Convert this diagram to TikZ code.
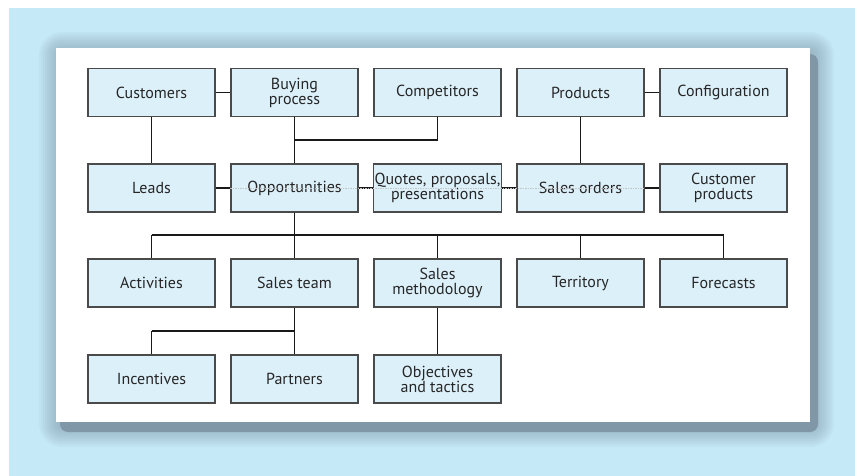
\documentclass[tikz,border=0pt]{standalone}
\usepackage{fontspec}
\setmainfont{PT Sans}
\definecolor{bgblue}{HTML}{C6E9F8}
\definecolor{shadowgray}{HTML}{7F97A6}
\definecolor{boxfill}{HTML}{DCF0FA}
\definecolor{boxline}{HTML}{4A4A4A}
\begin{document}
\begin{tikzpicture}[x=1pt,y=-1pt,
  item/.style={draw=boxline,line width=1.3pt,fill=boxfill,minimum width=127pt,minimum height=48pt,
    inner sep=1pt,align=center,font=\fontsize{16}{15}\selectfont,text=black!85},
  link/.style={line width=1.2pt,draw=black!90},
  faint/.style={line width=0.5pt,draw=gray!45,dash pattern=on 1.5pt off 1pt}]
\useasboundingbox (0,0) rectangle (855,476);
\fill[white] (0,0) rectangle (855,476);
\fill[bgblue] (9,8) rectangle (855,476);
% soft shadow halo
\foreach \i in {1,...,10}{
  \fill[shadowgray,opacity=0.07,rounded corners={3pt+2*\i pt}] (56-2*\i+3,48-2*\i+4) rectangle (810+2*\i+4,422+2*\i+5);
}
\fill[shadowgray,rounded corners=8pt] (60,54) rectangle (818,432);
\fill[white] (56,48) rectangle (810,422);
% nodes
\node[item] (cust) at (151.5,92.5) {Customers};
\node[item] (buy) at (294.5,92.5) {Buying\\process};
\node[item] (comp) at (437.5,92.5) {Competitors};
\node[item] (prod) at (580.5,92.5) {Products};
\node[item] (conf) at (723.5,92.5) {Configuration};
\node[item] (leads) at (151.5,188) {Leads};
\node[item] (opp) at (294.5,188) {Opportunities};
\node[item] (quot) at (437.5,188) {Quotes, proposals,\\presentations};
\node[item] (so) at (580.5,188) {Sales orders};
\node[item] (cp) at (723.5,188) {Customer\\products};
\node[item] (act) at (151.5,283) {Activities};
\node[item] (team) at (294.5,283) {Sales team};
\node[item] (meth) at (437.5,283) {Sales\\methodology};
\node[item] (terr) at (580.5,283) {Territory};
\node[item] (fore) at (723.5,283) {Forecasts};
\node[item] (inc) at (151.5,379) {Incentives};
\node[item] (part) at (294.5,379) {Partners};
\node[item] (obj) at (437.5,379) {Objectives\\and tactics};
% junction coordinates
\coordinate (j1) at (294.5,140);
\coordinate (j2) at (437.5,140);
\coordinate (b0) at (294.5,235);
\coordinate (bl) at (151.5,235);
\coordinate (bm) at (437.5,235);
\coordinate (bt) at (580.5,235);
\coordinate (br) at (723.5,235);
\coordinate (t0) at (294.5,331);
\coordinate (tl) at (151.5,331);
% links
\draw[link] (cust) -- (buy);
\draw[link] (prod) -- (conf);
\draw[link] (cust) -- (leads);
\draw[link] (prod) -- (so);
\draw[link] (buy) -- (opp);
\draw[link] (comp.south) |- (j1);
\draw[link] (leads) -- (opp);
\draw[link] (opp) -- (quot);
\draw[link] (quot) -- (so);
\draw[link] (so) -- (cp);
\draw[link] (opp.south) -- (b0);
\draw[link] (bl) -- (br);
\draw[link] (bl) -- (act.north);
\draw[link] (b0) -- (team.north);
\draw[link] (bm) -- (meth.north);
\draw[link] (bt) -- (terr.north);
\draw[link] (br) -- (fore.north);
\draw[link] (team.south) -- (t0);
\draw[link] (tl) -- (t0);
\draw[link] (tl) -- (inc.north);
\draw[link] (t0) -- (part.north);
\draw[link] (meth) -- (obj);
\draw[faint] (opp.west) -- (so.east);
\end{tikzpicture}
\end{document}
